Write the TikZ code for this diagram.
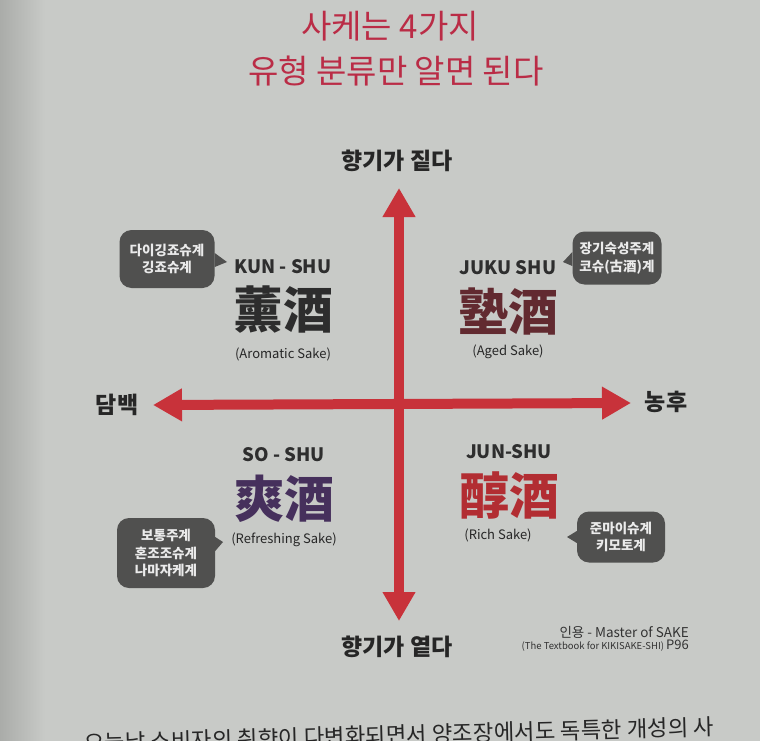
\documentclass[tikz,border=0pt]{standalone}
\usepackage{fontspec}
\setmainfont{Noto Sans CJK KR}
\usetikzlibrary{arrows.meta}
\definecolor{bg}{RGB}{200,202,199}
\definecolor{bgdark}{RGB}{170,172,169}
\definecolor{axisred}{RGB}{200,50,58}
\definecolor{titlered}{RGB}{186,44,70}
\definecolor{bubblegray}{RGB}{80,80,79}
\definecolor{kuncol}{RGB}{45,45,45}
\definecolor{jukucol}{RGB}{98,42,48}
\definecolor{socol}{RGB}{70,48,92}
\definecolor{juncol}{RGB}{178,45,50}
\begin{document}
\begin{tikzpicture}[x=1pt,y=-1pt,
  axis/.style={draw=axisred,line width=10pt,{Triangle[width=31pt,length=29pt]}-{Triangle[width=31pt,length=29pt]}},
  axislabel/.style={font=\bfseries\fontsize{23}{26}\selectfont,text=black!85},
  roman/.style={font=\bfseries\fontsize{18.5}{22}\selectfont,text=black!82},
  hanja/.style={font=\bfseries\fontsize{50}{52}\selectfont,inner sep=0pt},
  sake/.style={font=\fontsize{13}{15}\selectfont,text=black!85},
  bubble/.style={fill=bubblegray,rounded corners=12pt,text=white!92!black,align=center,
    font=\bfseries\fontsize{13.5}{17.5}\selectfont,inner sep=0pt}]
\useasboundingbox (0,0) rectangle (760,741);
\fill[bg] (0,0) rectangle (760,741);
\shade[left color=bgdark,right color=bg] (0,0) rectangle (45,741);
\node[titlered,font=\fontsize{33}{36}\selectfont] (title1) at (390,26) {사케는 4가지};
\node[titlered,font=\fontsize{33}{36}\selectfont] (title2) at (396,71) {유형 분류만 알면 된다};
\coordinate (north) at (399,188);
\coordinate (south) at (399,621);
\coordinate (west) at (153,405);
\coordinate (east) at (631,403);
\draw[axis] (west) -- (east);
\draw[axis] (south) -- (north);
\node[axislabel] (strong) at (397,161) {향기가 짙다};
\node[axislabel] (weak) at (397,647) {향기가 옅다};
\node[axislabel] (light) at (117,405) {담백};
\node[axislabel] (rich) at (666,402) {농후};
\node[roman] (kun) at (283,267) {KUN - SHU};
\node[hanja,kuncol] (kunhanja) at (283,310) {薰酒};
\node[sake] (kunsake) at (283,354) {(Aromatic Sake)};
\node[roman] (juku) at (508,268) {JUKU SHU};
\node[hanja,jukucol] (jukuhanja) at (508,311) {塾酒};
\node[sake] (jukusake) at (508,352) {(Aged Sake)};
\node[roman] (so) at (284,455) {SO - SHU};
\node[hanja,socol] (sohanja) at (284,499) {爽酒};
\node[sake] (sosake) at (284,540) {(Refreshing Sake)};
\node[roman] (jun) at (509,452) {JUN-SHU};
\node[hanja,juncol] (junhanja) at (509,495) {醇酒};
\node[sake] (junsake) at (498,535) {(Rich Sake)};
\node[bubble,minimum width=95pt,minimum height=58pt] (kunbox) at (167,259) {다이깅죠슈계\\깅죠슈계};
\coordinate (kuntip) at (227,262);
\fill[bubblegray] ([yshift=6pt]kunbox.east) -- (kuntip) -- ([yshift=-8pt]kunbox.east) -- cycle;
\node[bubble,minimum width=89pt,minimum height=53pt] (jukubox) at (617,258) {장기숙성주계\\코슈(古酒)계};
\coordinate (jukutip) at (563,262);
\fill[bubblegray] ([yshift=6pt]jukubox.west) -- (jukutip) -- ([yshift=-8pt]jukubox.west) -- cycle;
\node[bubble,minimum width=98pt,minimum height=70pt] (sobox) at (166,553) {보통주계\\혼조조슈계\\나마자케계};
\coordinate (sotip) at (223,542);
\fill[bubblegray] ([yshift=16pt]sobox.east) -- (sotip) -- ([yshift=2pt]sobox.east) -- cycle;
\node[bubble,minimum width=88pt,minimum height=51pt] (junbox) at (621,537) {준마이슈계\\키모토계};
\coordinate (juntip) at (567,537);
\fill[bubblegray] ([yshift=6pt]junbox.west) -- (juntip) -- ([yshift=-6pt]junbox.west) -- cycle;
\node[anchor=east,text=black!80,font=\fontsize{13.5}{15}\selectfont,inner sep=0pt] (source) at (689,632) {인용 - Master of SAKE};
\node[anchor=east,text=black!80,font=\fontsize{9.5}{11}\selectfont,inner sep=0pt] (book) at (689,646)
  {(The Textbook for KIKISAKE-SHI) {\fontsize{13}{15}\selectfont P96}};
\node[text=black!85,font=\fontsize{22.3}{25}\selectfont,rotate=1.5] (body) at (399,735)
  {오늘날 소비자의 취향이 다변화되면서 양조장에서도 독특한 개성의 사};
\end{tikzpicture}
\end{document}
